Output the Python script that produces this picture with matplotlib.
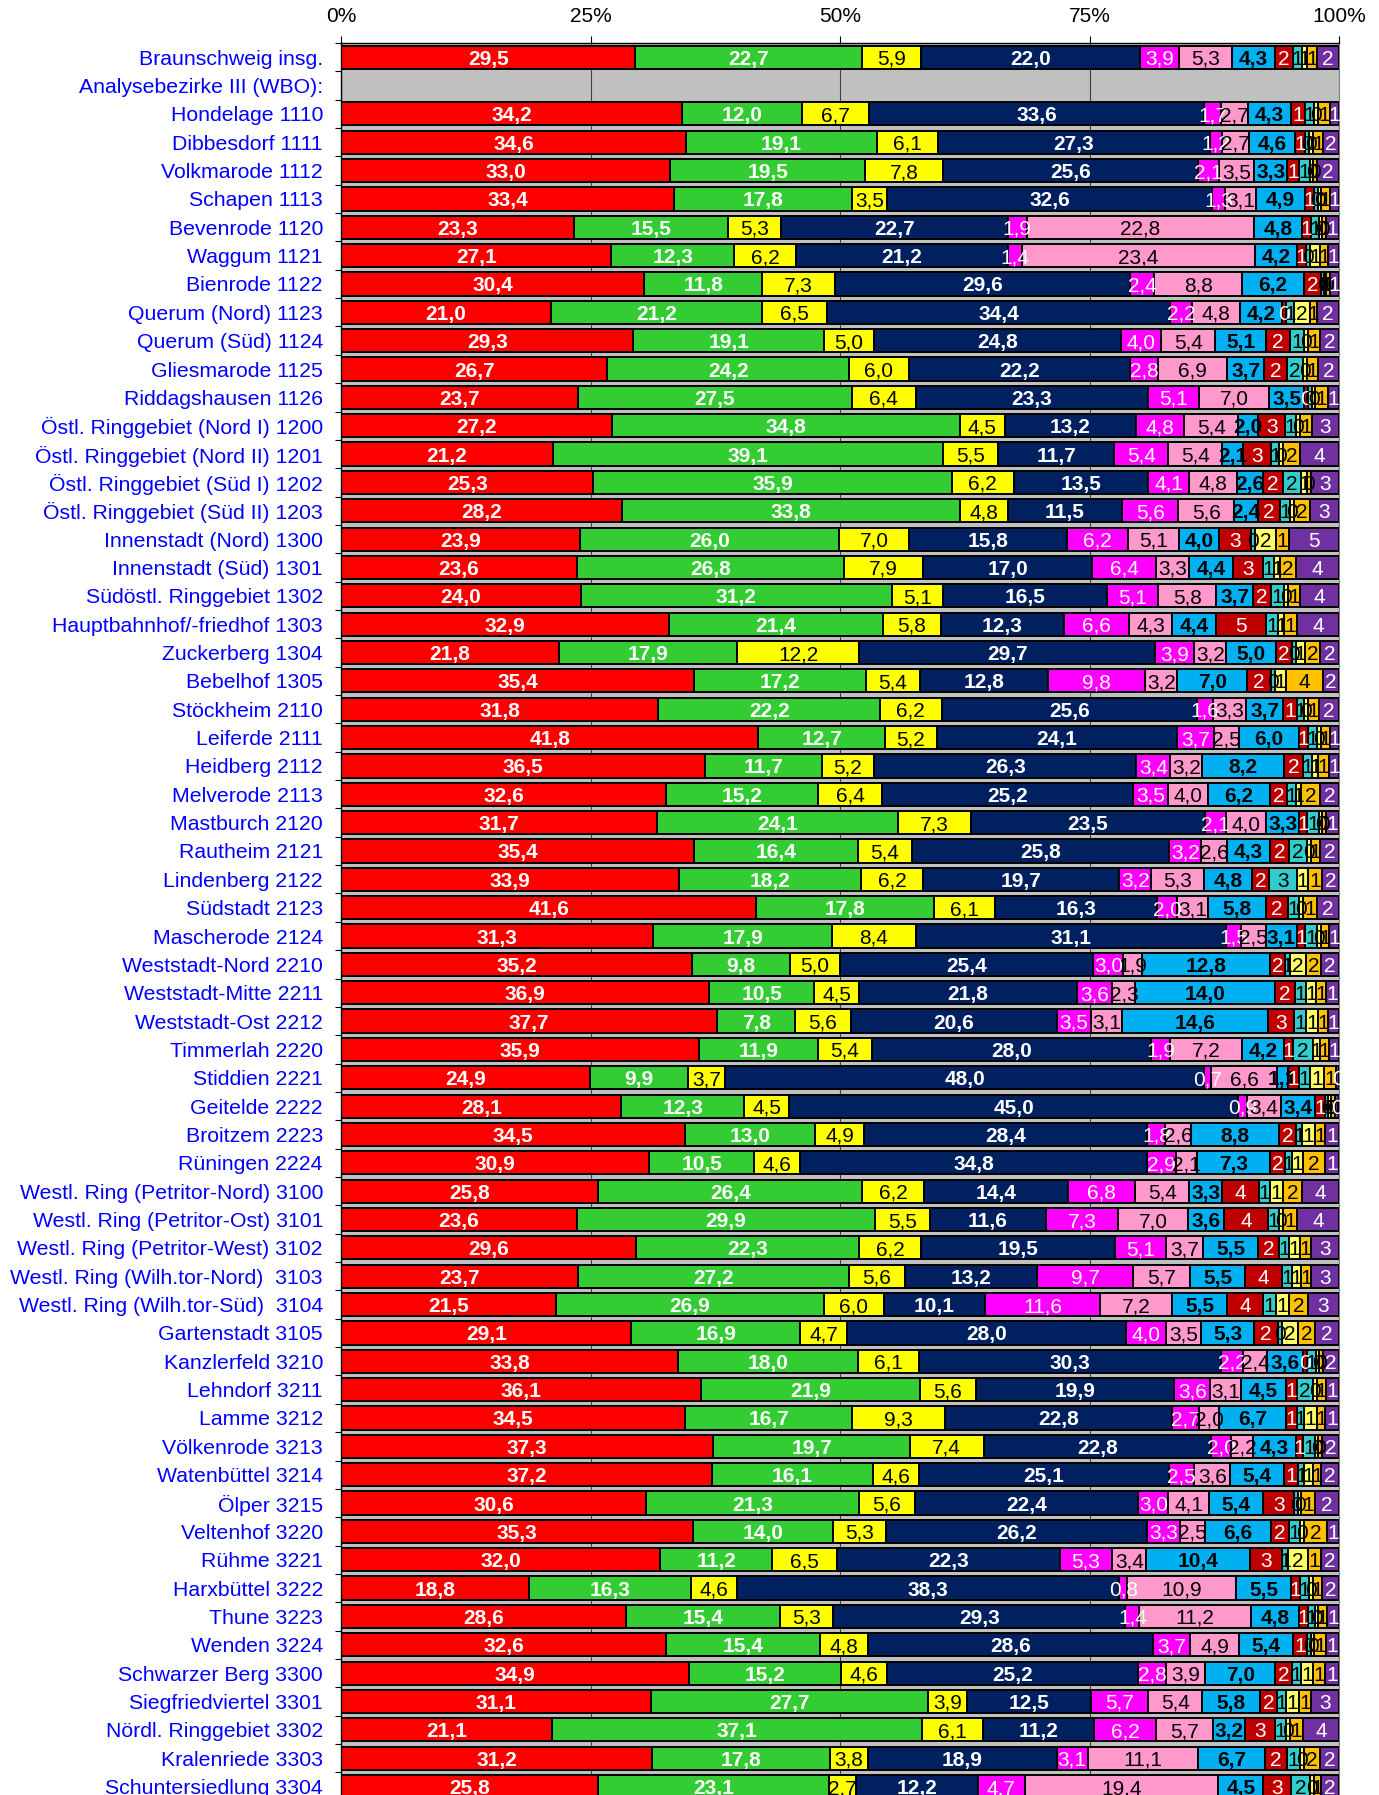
import numpy as np
import matplotlib.pyplot as plt

plt.rcParams['font.family'] = ['Liberation Sans', 'DejaVu Sans']

bezirke = [
    "Braunschweig insg.", "Analysebezirke III (WBO):",
    "Hondelage 1110", "Dibbesdorf 1111", "Volkmarode 1112", "Schapen 1113",
    "Bevenrode 1120", "Waggum 1121", "Bienrode 1122", "Querum (Nord) 1123",
    "Querum (Süd) 1124", "Gliesmarode 1125", "Riddagshausen 1126",
    "Östl. Ringgebiet (Nord I) 1200", "Östl. Ringgebiet (Nord II) 1201",
    "Östl. Ringgebiet (Süd I) 1202", "Östl. Ringgebiet (Süd II) 1203",
    "Innenstadt (Nord) 1300", "Innenstadt (Süd) 1301", "Südöstl. Ringgebiet 1302",
    "Hauptbahnhof/-friedhof 1303", "Zuckerberg 1304", "Bebelhof 1305",
    "Stöckheim 2110", "Leiferde 2111", "Heidberg 2112", "Melverode 2113",
    "Mastburch 2120", "Rautheim 2121", "Lindenberg 2122", "Südstadt 2123",
    "Mascherode 2124", "Weststadt-Nord 2210", "Weststadt-Mitte 2211",
    "Weststadt-Ost 2212", "Timmerlah 2220", "Stiddien 2221", "Geitelde 2222",
    "Broitzem 2223", "Rüningen 2224", "Westl. Ring (Petritor-Nord) 3100",
    "Westl. Ring (Petritor-Ost) 3101", "Westl. Ring (Petritor-West) 3102",
    "Westl. Ring (Wilh.tor-Nord)  3103", "Westl. Ring (Wilh.tor-Süd)  3104",
    "Gartenstadt 3105", "Kanzlerfeld 3210", "Lehndorf 3211", "Lamme 3212",
    "Völkenrode 3213", "Watenbüttel 3214", "Ölper 3215", "Veltenhof 3220",
    "Rühme 3221", "Harxbüttel 3222", "Thune 3223", "Wenden 3224",
    "Schwarzer Berg 3300", "Siegfriedviertel 3301", "Nördl. Ringgebiet 3302",
    "Kralenriede 3303", "Schuntersiedlung 3304",
]

# Stimmenanteile in %, None = Zwischenzeile ohne Balken
rot = [29.5, None, 34.2, 34.6, 33.0, 33.4, 23.3, 27.1, 30.4, 21.0, 29.3, 26.7, 23.7,
       27.2, 21.2, 25.3, 28.2, 23.9, 23.6, 24.0, 32.9, 21.8, 35.4, 31.8, 41.8, 36.5,
       32.6, 31.7, 35.4, 33.9, 41.6, 31.3, 35.2, 36.9, 37.7, 35.9, 24.9, 28.1, 34.5,
       30.9, 25.8, 23.6, 29.6, 23.7, 21.5, 29.1, 33.8, 36.1, 34.5, 37.3, 37.2, 30.6,
       35.3, 32.0, 18.8, 28.6, 32.6, 34.9, 31.1, 21.1, 31.2, 25.8]
gruen = [22.7, None, 12.0, 19.1, 19.5, 17.8, 15.5, 12.3, 11.8, 21.2, 19.1, 24.2, 27.5,
         34.8, 39.1, 35.9, 33.8, 26.0, 26.8, 31.2, 21.4, 17.9, 17.2, 22.2, 12.7, 11.7,
         15.2, 24.1, 16.4, 18.2, 17.8, 17.9, 9.8, 10.5, 7.8, 11.9, 9.9, 12.3, 13.0,
         10.5, 26.4, 29.9, 22.3, 27.2, 26.9, 16.9, 18.0, 21.9, 16.7, 19.7, 16.1, 21.3,
         14.0, 11.2, 16.3, 15.4, 15.4, 15.2, 27.7, 37.1, 17.8, 23.1]
gelb = [5.9, None, 6.7, 6.1, 7.8, 3.5, 5.3, 6.2, 7.3, 6.5, 5.0, 6.0, 6.4,
        4.5, 5.5, 6.2, 4.8, 7.0, 7.9, 5.1, 5.8, 12.2, 5.4, 6.2, 5.2, 5.2,
        6.4, 7.3, 5.4, 6.2, 6.1, 8.4, 5.0, 4.5, 5.6, 5.4, 3.7, 4.5, 4.9,
        4.6, 6.2, 5.5, 6.2, 5.6, 6.0, 4.7, 6.1, 5.6, 9.3, 7.4, 4.6, 5.6,
        5.3, 6.5, 4.6, 5.3, 4.8, 4.6, 3.9, 6.1, 3.8, 2.7]
blau = [22.0, None, 33.6, 27.3, 25.6, 32.6, 22.7, 21.2, 29.6, 34.4, 24.8, 22.2, 23.3,
        13.2, 11.7, 13.5, 11.5, 15.8, 17.0, 16.5, 12.3, 29.7, 12.8, 25.6, 24.1, 26.3,
        25.2, 23.5, 25.8, 19.7, 16.3, 31.1, 25.4, 21.8, 20.6, 28.0, 48.0, 45.0, 28.4,
        34.8, 14.4, 11.6, 19.5, 13.2, 10.1, 28.0, 30.3, 19.9, 22.8, 22.8, 25.1, 22.4,
        26.2, 22.3, 38.3, 29.3, 28.6, 25.2, 12.5, 11.2, 18.9, 12.2]
magenta = [3.9, None, 1.7, 1.2, 2.1, 1.3, 1.9, 1.4, 2.4, 2.2, 4.0, 2.8, 5.1,
           4.8, 5.4, 4.1, 5.6, 6.2, 6.4, 5.1, 6.6, 3.9, 9.8, 1.6, 3.7, 3.4,
           3.5, 2.1, 3.2, 3.2, 2.0, 1.5, 3.0, 3.6, 3.5, 1.9, 0.7, 0.9, 1.8,
           2.9, 6.8, 7.3, 5.1, 9.7, 11.6, 4.0, 2.2, 3.6, 2.7, 2.0, 2.5, 3.0,
           3.3, 5.3, 0.8, 1.4, 3.7, 2.8, 5.7, 6.2, 3.1, 4.7]
rosa = [5.3, None, 2.7, 2.7, 3.5, 3.1, 22.8, 23.4, 8.8, 4.8, 5.4, 6.9, 7.0,
        5.4, 5.4, 4.8, 5.6, 5.1, 3.3, 5.8, 4.3, 3.2, 3.2, 3.3, 2.5, 3.2,
        4.0, 4.0, 2.6, 5.3, 3.1, 2.5, 1.9, 2.3, 3.1, 7.2, 6.6, 3.4, 2.6,
        2.1, 5.4, 7.0, 3.7, 5.7, 7.2, 3.5, 2.4, 3.1, 2.0, 2.2, 3.6, 4.1,
        2.5, 3.4, 10.9, 11.2, 4.9, 3.9, 5.4, 5.7, 11.1, 19.4]
hellblau = [4.3, None, 4.3, 4.6, 3.3, 4.9, 4.8, 4.2, 6.2, 4.2, 5.1, 3.7, 3.5,
            2.0, 2.1, 2.6, 2.4, 4.0, 4.4, 3.7, 4.4, 5.0, 7.0, 3.7, 6.0, 8.2,
            6.2, 3.3, 4.3, 4.8, 5.8, 3.1, 12.8, 14.0, 14.6, 4.2, 1.1, 3.4, 8.8,
            7.3, 3.3, 3.6, 5.5, 5.5, 5.5, 5.3, 3.6, 4.5, 6.7, 4.3, 5.4, 5.4,
            6.6, 10.4, 5.5, 4.8, 5.4, 7.0, 5.8, 3.2, 6.7, 4.5]
dunkelrot = [1.8, None, 1.4, 1.0, 1.2, 0.9, 0.9, 0.9, 1.7, 0.4, 2.4, 2.3, 0.4,
             2.7, 2.8, 2.0, 2.2, 3.2, 3.0, 1.8, 5.0, 1.6, 2.4, 1.4, 0.9, 1.9,
             1.7, 0.8, 1.9, 1.7, 2.2, 0.8, 1.5, 2.0, 2.6, 0.9, 1.1, 1.0, 1.7,
             1.5, 3.7, 4.4, 2.1, 3.7, 3.6, 2.4, 0.4, 1.1, 1.1, 0.7, 1.4, 3.1,
             1.8, 3.2, 0.9, 0.9, 1.4, 1.7, 1.7, 3.0, 2.2, 2.8]
tuerkis = [0.9, None, 0.9, 0.4, 1.1, 0.4, 0.8, 0.4, 0.3, 0.8, 1.4, 1.6, 0.4,
           1.1, 0.8, 1.8, 1.0, 0.4, 1.1, 1.3, 1.2, 0.4, 0.4, 0.7, 0.9, 0.9,
           0.9, 1.2, 1.8, 2.8, 1.1, 1.2, 0.5, 1.1, 1.2, 2.0, 1.1, 0.3, 0.6,
           0.7, 1.1, 1.1, 1.0, 1.0, 1.3, 0.4, 0.9, 1.6, 0.7, 1.2, 0.6, 0.4,
           1.1, 0.6, 0.9, 0.7, 0.4, 0.9, 0.9, 1.1, 1.3, 1.9]
hellgelb = [0.5, None, 0.4, 0.4, 0.3, 0.3, 0.3, 1.0, 0.2, 1.6, 0.4, 0.4, 0.3,
            0.4, 0.4, 0.6, 0.4, 2.1, 0.6, 0.4, 0.6, 0.9, 1.1, 0.4, 0.4, 0.6,
            0.5, 0.3, 0.4, 1.1, 0.4, 0.4, 1.6, 1.0, 1.2, 0.7, 1.4, 0.3, 1.3,
            1.1, 1.3, 0.4, 1.1, 0.9, 1.3, 1.6, 0.3, 0.4, 1.3, 0.3, 0.9, 0.3,
            0.4, 2.0, 0.4, 0.3, 0.3, 1.2, 1.3, 0.4, 0.4, 0.4]
orange = [1.0, None, 1.2, 1.0, 0.4, 0.9, 0.4, 0.8, 0.4, 0.7, 1.2, 1.1, 1.3,
          1.2, 1.7, 0.4, 1.6, 1.3, 1.6, 1.2, 1.3, 1.5, 3.7, 1.1, 0.9, 1.1,
          1.9, 0.4, 0.9, 1.4, 1.4, 0.8, 1.5, 1.0, 1.0, 0.9, 1.2, 0.4, 1.0,
          2.2, 1.9, 1.4, 1.1, 1.0, 1.9, 1.7, 0.4, 0.9, 0.8, 0.4, 0.8, 1.4,
          2.3, 1.3, 0.9, 0.9, 1.2, 1.2, 1.2, 1.3, 1.6, 0.7]
lila = [2.2, None, 0.9, 1.6, 2.2, 0.9, 1.3, 1.1, 0.9, 2.2, 1.9, 2.1, 1.1,
        2.7, 3.9, 2.8, 2.9, 5.0, 4.3, 3.9, 4.2, 1.9, 1.6, 2.0, 0.9, 1.0,
        1.9, 1.3, 1.9, 1.7, 2.2, 1.0, 1.8, 1.3, 1.1, 1.0, 0.3, 0.4, 1.4,
        1.4, 3.7, 4.2, 2.8, 2.8, 3.1, 2.4, 1.6, 1.3, 1.4, 1.7, 1.8, 2.4,
        1.2, 1.8, 1.7, 1.2, 1.3, 1.4, 2.8, 3.6, 1.9, 1.8]

serien = [rot, gruen, gelb, blau, magenta, rosa, hellblau,
          dunkelrot, tuerkis, hellgelb, orange, lila]
farben = ['#FF0000', '#33CC33', '#FFFF00', '#002060', '#FF00FF', '#FF99CC',
          '#00B0F0', '#C00000', '#33CCCC', '#FFFF66', '#FFC000', '#7030A0']
textfarbe = ['white', 'white', 'black', 'white', 'white', 'black',
             'black', 'white', 'black', 'black', 'black', 'white']
fett = [True, True, False, True, False, False, True,
        False, False, False, False, False]
ganzzahl = [False] * 7 + [True] * 5

W, H = 1379, 1795
fig = plt.figure(figsize=(W / 100, H / 100), dpi=100)
n = len(bezirke)
pitch = 28.35
top_px = 43
ax = fig.add_axes([341 / W, 1 - (top_px + n * pitch) / H, 998 / W, n * pitch / H])
ax.set_facecolor('#C0C0C0')

y = np.arange(n)
links = np.zeros(n)
for werte, farbe, tf, bold, ganz in zip(serien, farben, textfarbe, fett, ganzzahl):
    w = np.array([np.nan if v is None else v for v in werte], dtype=float)
    ok = ~np.isnan(w)
    ax.barh(y[ok], w[ok], left=links[ok], height=0.82, color=farbe,
            edgecolor='black', linewidth=1.4, zorder=2)
    for i in np.where(ok)[0]:
        if ganz:
            txt = str(int(np.floor(w[i] + 0.5)))
        else:
            txt = f"{w[i]:.1f}".replace('.', ',')
        ax.text(links[i] + w[i] / 2, y[i], txt, ha='center', va='center_baseline',
                color=tf, fontsize=15, fontweight='bold' if bold else 'normal',
                zorder=5)
    links[ok] += w[ok]

ax.set_xlim(0, 100)
ax.set_ylim(n - 0.5, -0.5)
ax.xaxis.tick_top()
ax.set_xticks([0, 25, 50, 75, 100])
ax.set_xticklabels(['0%', '25%', '50%', '75%', '100%'], fontsize=15)
ax.tick_params(axis='x', length=5, width=0.8, pad=7, colors='black')
ax.grid(axis='x', color='#404040', linewidth=0.8, zorder=0)
ax.set_axisbelow(True)

ax.set_yticks(np.arange(-0.5, n, 1))
ax.set_yticklabels([])
ax.tick_params(axis='y', which='major', length=4, width=0.8)
ax.set_yticks(y, minor=True)
ax.set_yticklabels(bezirke, minor=True, fontsize=15.3, color='#0000FF')
ax.tick_params(axis='y', which='minor', length=0, pad=13)

for s in ['top', 'left']:
    ax.spines[s].set_color('black')
    ax.spines[s].set_linewidth(1.0)
ax.spines['right'].set_color('#808080')
ax.spines['bottom'].set_visible(False)

fig.savefig('out.png', dpi=100)
